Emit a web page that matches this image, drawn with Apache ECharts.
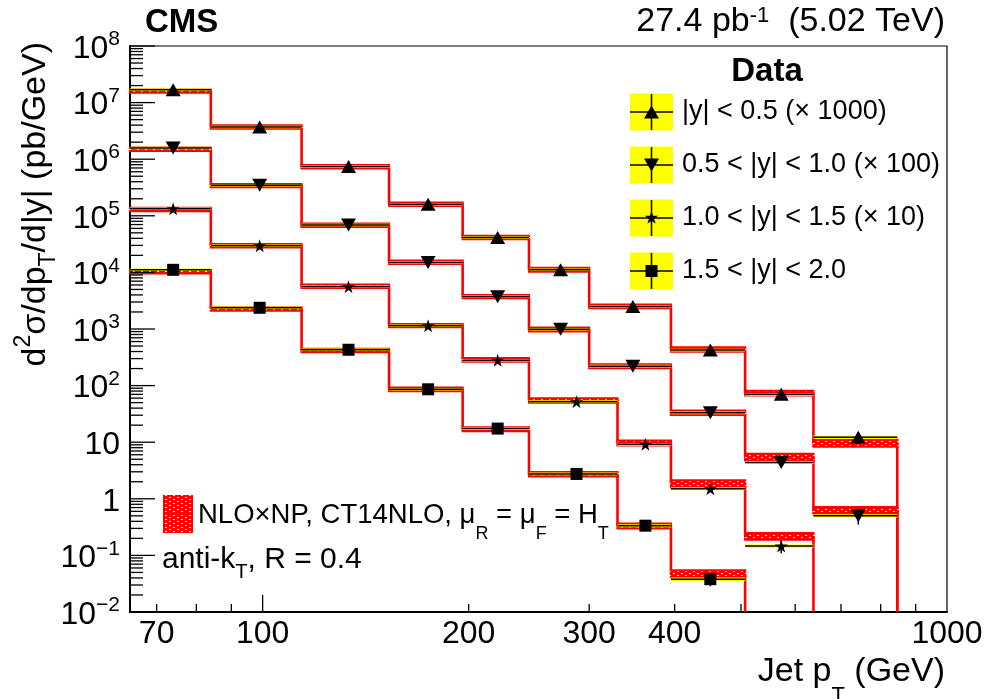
<!DOCTYPE html>
<html><head><meta charset="utf-8">
<script src="https://cdn.jsdelivr.net/npm/echarts@6/dist/echarts.min.js"></script>
<style>html,body{margin:0;padding:0;background:#fff}#c{width:989px;height:699px}</style>
</head><body><div id="c"></div>
<script>
const FONT = '"Liberation Sans", Arial, Helvetica, sans-serif';

// ---- axis ranges / ticks ----
const X_MIN = 64, X_MAX = 1000;
const Y_MIN = 1e-2, Y_MAX = 1e8;
const xTickLabels = [70, 100, 200, 300, 400, 1000];
const xMajorTicks = [100];
const xMinorTicks = [70, 80, 90, 200, 300, 400, 500, 600, 700, 800, 900];
const yDecadeExponents = [-2, -1, 0, 1, 2, 3, 4, 5, 6, 7, 8];

// ---- rapidity bins (categories) ----
const rapidityLabels = ['|y| < 0.5 (\u00d7 1000)', '0.5 < |y| < 1.0 (\u00d7 100)', '1.0 < |y| < 1.5 (\u00d7 10)', '1.5 < |y| < 2.0'];

// ---- jet pT bin edges (GeV) ----
const binEdges_y0 = [64, 84, 114, 153, 196, 245, 300, 395, 507, 638, 846];
const binEdges_y1 = [64, 84, 114, 153, 196, 245, 300, 395, 507, 638, 846];
const binEdges_y2 = [64, 84, 114, 153, 196, 245, 330, 395, 507, 638];
const binEdges_y3 = [64, 84, 114, 153, 196, 245, 330, 395, 507];

// ---- NLO x NP prediction (pb/GeV, scaled) and relative band half-width ----
const nlo_y0 = [1.60e7, 3.73e6, 7.35e5, 1.61e5, 4.16e4, 1.12e4, 2.52e3, 435, 74, 9.7];
const nlo_y1 = [1.50e6, 3.42e5, 6.80e4, 1.51e4, 3.74e3, 980, 221, 33.3, 5.5, 0.63];
const nlo_y2 = [1.30e5, 2.97e4, 5.69e3, 1.15e3, 286, 54.8, 9.7, 1.86, 0.219];
const nlo_y3 = [1.03e4, 2.27e3, 418, 86, 17.0, 2.72, 0.333, 0.048];
const nloUnc_y0 = [0.07, 0.07, 0.07, 0.07, 0.07, 0.08, 0.08, 0.09, 0.10, 0.14];
const nloUnc_y1 = [0.07, 0.07, 0.07, 0.07, 0.07, 0.08, 0.08, 0.09, 0.14, 0.14];
const nloUnc_y2 = [0.07, 0.07, 0.07, 0.07, 0.08, 0.09, 0.10, 0.14, 0.14];
const nloUnc_y3 = [0.07, 0.07, 0.07, 0.08, 0.08, 0.09, 0.10, 0.14];

// ---- measured cross sections (scaled), relative syst. and stat. uncertainties ----
const data_y0 = [1.68e7, 3.70e6, 7.40e5, 1.60e5, 4.12e4, 1.11e4, 2.50e3, 425, 70, 12.2];
const data_y1 = [1.58e6, 3.45e5, 6.90e4, 1.50e4, 3.70e3, 990, 220, 33.0, 4.4, 0.50];
const data_y2 = [1.33e5, 2.95e4, 5.60e3, 1.14e3, 280, 52, 9.2, 1.50, 0.146];
const data_y3 = [1.11e4, 2.37e3, 430, 86, 17.4, 2.75, 0.335, 0.038];
const sys_y0 = [0.03, 0.03, 0.03, 0.03, 0.03, 0.03, 0.035, 0.035, 0.04, 0.05];
const sys_y1 = [0.03, 0.03, 0.03, 0.03, 0.03, 0.03, 0.035, 0.035, 0.04, 0.05];
const sys_y2 = [0.03, 0.03, 0.03, 0.03, 0.03, 0.035, 0.035, 0.04, 0.05];
const sys_y3 = [0.03, 0.03, 0.03, 0.03, 0.035, 0.035, 0.04, 0.05];
const stat_y0 = [0.005, 0.005, 0.005, 0.01, 0.01, 0.02, 0.03, 0.05, 0.10, 0.22];
const stat_y1 = [0.005, 0.005, 0.005, 0.01, 0.01, 0.02, 0.03, 0.05, 0.12, 0.30];
const stat_y2 = [0.005, 0.005, 0.01, 0.01, 0.02, 0.03, 0.05, 0.10, 0.25];
const stat_y3 = [0.005, 0.01, 0.01, 0.02, 0.03, 0.05, 0.10, 0.25];

// ---- styling ----
const STAR_PATH = 'path://M50 0 L61.17 34.63 L97.55 34.55 L68.07 55.87 L79.39 90.45 L50 69 L20.61 90.45 L31.93 55.87 L2.45 34.55 L38.83 34.63 Z';
const groups = [
  {edges: binEdges_y0, nlo: nlo_y0, nloUnc: nloUnc_y0, data: data_y0, sys: sys_y0, stat: stat_y0, symbol: 'triangle', rotate: 0, size: [15, 13]},
  {edges: binEdges_y1, nlo: nlo_y1, nloUnc: nloUnc_y1, data: data_y1, sys: sys_y1, stat: stat_y1, symbol: 'triangle', rotate: 180, size: [15, 13]},
  {edges: binEdges_y2, nlo: nlo_y2, nloUnc: nloUnc_y2, data: data_y2, sys: sys_y2, stat: stat_y2, symbol: STAR_PATH, rotate: 0, size: [13, 13]},
  {edges: binEdges_y3, nlo: nlo_y3, nloUnc: nloUnc_y3, data: data_y3, sys: sys_y3, stat: stat_y3, symbol: 'rect', rotate: 0, size: [12, 12]}
];

// hatch pattern (red with white dashes)
function makePattern() {
  const c = document.createElement('canvas');
  c.width = 8; c.height = 8;
  const g = c.getContext('2d');
  g.fillStyle = '#ff0000'; g.fillRect(0, 0, 8, 8);
  g.fillStyle = '#ffffff';
  g.fillRect(1, 1, 2, 1); g.fillRect(5, 3, 2, 1); g.fillRect(1, 5, 2, 1); g.fillRect(5, 7, 2, 1);
  return c;
}
const hatch = makePattern();

function stepPoints(edges, vals) {
  const pts = [];
  vals.forEach((v, i) => { pts.push([edges[i], v]); pts.push([edges[i + 1], v]); });
  pts.push([edges[edges.length - 1], Y_MIN]);
  return pts;
}

const series = [];
groups.forEach((g, k) => {
  // NLO step line
  series.push({
    type: 'line', name: 'nlo' + k, data: stepPoints(g.edges, g.nlo), showSymbol: false, symbol: 'none',
    lineStyle: {color: '#ff0000', width: 2.6}, z: 2, silent: true, animation: false
  });
  // NLO uncertainty band
  series.push({
    type: 'custom', name: 'nloBand' + k, coordinateSystem: 'cartesian2d', z: 3, silent: true, animation: false,
    data: g.nlo.map((v, i) => [g.edges[i], g.edges[i + 1], v, g.nloUnc[i]]),
    encode: {x: [0, 1], y: 2},
    renderItem(params, api) {
      const lo = api.value(0), hi = api.value(1), v = api.value(2), u = api.value(3);
      const a = api.coord([lo, v * (1 + u)]), b = api.coord([hi, v * (1 - u)]);
      return {type: 'group', children: [
        {type: 'rect', shape: {x: a[0] - 1, y: a[1], width: b[0] - a[0] + 2, height: b[1] - a[1]}, style: {fill: {image: hatch, repeat: 'repeat'}}},
        {type: 'line', shape: {x1: a[0] - 1, y1: a[1], x2: b[0] + 1, y2: a[1]}, style: {stroke: '#ff0000', lineWidth: 2}},
        {type: 'line', shape: {x1: a[0] - 1, y1: b[1], x2: b[0] + 1, y2: b[1]}, style: {stroke: '#ff0000', lineWidth: 2}}
      ]};
    }
  });
  // data: systematic band (yellow) + horizontal bar + stat error
  series.push({
    type: 'custom', name: 'dataBar' + k, coordinateSystem: 'cartesian2d', z: 4, silent: true, animation: false,
    data: g.data.map((d, i) => [g.edges[i], g.edges[i + 1], d, g.sys[i], g.stat[i]]),
    encode: {x: [0, 1], y: 2},
    renderItem(params, api) {
      const lo = api.value(0), hi = api.value(1), d = api.value(2), s = api.value(3), st = api.value(4);
      const xc = (lo + hi) / 2;
      const a = api.coord([lo, d * (1 + s)]), b = api.coord([hi, d * (1 - s)]);
      const m = api.coord([xc, d]);
      const e1 = api.coord([xc, d * (1 + st)]), e2 = api.coord([xc, d * (1 - st)]);
      return {type: 'group', children: [
        {type: 'rect', shape: {x: a[0], y: a[1] - 0.5, width: b[0] - a[0], height: b[1] - a[1] + 1}, style: {fill: '#ffff00'}},
        {type: 'line', shape: {x1: a[0], y1: m[1], x2: b[0], y2: m[1]}, style: {stroke: '#000', lineWidth: 1.5}},
        {type: 'line', shape: {x1: m[0], y1: e1[1], x2: m[0], y2: e2[1]}, style: {stroke: '#000', lineWidth: 1.5}}
      ]};
    }
  });
  // data markers
  series.push({
    type: 'scatter', name: rapidityLabels[k], z: 5, silent: true, animation: false,
    data: g.data.map((d, i) => [(g.edges[i] + g.edges[i + 1]) / 2, d]),
    symbol: g.symbol, symbolRotate: g.rotate, symbolSize: g.size,
    itemStyle: {color: '#000', opacity: 1}
  });
});

// ---- tick marks and tick labels drawn through the axes' scales ----
const yMinorTicks = [];
yDecadeExponents.slice(0, -1).forEach(e => { for (let m = 2; m <= 9; m++) yMinorTicks.push(m * Math.pow(10, e)); });

series.push({
  type: 'custom', name: 'xticks', coordinateSystem: 'cartesian2d', z: 6, silent: true, animation: false,
  data: xMinorTicks.map(v => [v, Y_MIN, 8]).concat(xMajorTicks.map(v => [v, Y_MIN, 17])),
  encode: {x: 0, y: 1},
  renderItem(params, api) {
    const c = api.coord([api.value(0), Y_MIN]); const L = api.value(2);
    return {type: 'line', shape: {x1: c[0], y1: c[1], x2: c[0], y2: c[1] - L}, style: {stroke: '#000', lineWidth: 1.3}};
  }
});
series.push({
  type: 'custom', name: 'yticks', coordinateSystem: 'cartesian2d', z: 6, silent: true, animation: false,
  data: yMinorTicks.map(v => [X_MIN, v, 13]).concat(yDecadeExponents.map(e => [X_MIN, Math.pow(10, e), 25])),
  encode: {x: 0, y: 1},
  renderItem(params, api) {
    const c = api.coord([X_MIN, api.value(1)]); const L = api.value(2);
    return {type: 'line', shape: {x1: c[0], y1: c[1], x2: c[0] + L, y2: c[1]}, style: {stroke: '#000', lineWidth: 1.3}};
  }
});
series.push({
  type: 'custom', name: 'xlabels', coordinateSystem: 'cartesian2d', z: 6, silent: true, animation: false,
  data: xTickLabels.map(v => [v, Y_MIN]),
  encode: {x: 0, y: 1},
  renderItem(params, api) {
    const v = api.value(0); const c = api.coord([v, Y_MIN]);
    return {type: 'text', x: c[0], y: c[1] + 22, style: {text: String(v), font: '32px ' + FONT, fill: '#000', align: 'center', verticalAlign: 'middle'}};
  }
});
series.push({
  type: 'custom', name: 'ylabels', coordinateSystem: 'cartesian2d', z: 6, silent: true, animation: false,
  data: yDecadeExponents.map(e => [X_MIN, Math.pow(10, e), e]),
  encode: {x: 0, y: 1},
  renderItem(params, api) {
    const e = api.value(2); const c = api.coord([X_MIN, api.value(1)]);
    let t;
    if (e === 0) t = '{b|1}';
    else if (e === 1) t = '{b|10}';
    else t = '{b|10}{s|' + (e < 0 ? '\u2212' + (-e) : e) + '}';
    return {type: 'text', x: c[0] - 10, y: c[1] + 3, style: {
      text: t, align: 'right', verticalAlign: 'middle', fill: '#000',
      rich: {b: {fontSize: 32, fontFamily: FONT, lineHeight: 40, verticalAlign: 'middle'},
             s: {fontSize: 21, fontFamily: FONT, lineHeight: 20, verticalAlign: 'top'}}
    }};
  }
});

// ---- legend & annotations (graphic) ----
function starPts(cx, cy, R, r) {
  const p = [];
  for (let i = 0; i < 10; i++) {
    const ang = -Math.PI / 2 + i * Math.PI / 5; const rr = i % 2 === 0 ? R : r;
    p.push([cx + rr * Math.cos(ang), cy + rr * Math.sin(ang)]);
  }
  return p;
}
const graphic = [];
graphic.push({type: 'text', x: 145, y: 23, style: {text: 'CMS', font: 'bold 33px ' + FONT, fill: '#000', align: 'left', verticalAlign: 'middle'}});
graphic.push({type: 'text', x: 945, y: 22, style: {
  text: '{a|27.4 pb}{s|-1}{a|  (5.02 TeV)}', align: 'right', verticalAlign: 'middle', fill: '#000',
  rich: {a: {fontSize: 34, fontFamily: FONT, lineHeight: 34, verticalAlign: 'middle'}, s: {fontSize: 22, fontFamily: FONT, lineHeight: 20, verticalAlign: 'top'}}
}});
graphic.push({type: 'text', x: 767, y: 72, style: {text: 'Data', font: 'bold 33px ' + FONT, fill: '#000', align: 'center', verticalAlign: 'middle'}});
groups.forEach((g, i) => {
  const cy = 112 + 53 * i, cx = 651.5;
  let marker;
  if (i === 0) marker = {type: 'polygon', shape: {points: [[cx - 7.5, cy + 6.5], [cx + 7.5, cy + 6.5], [cx, cy - 6.5]]}, style: {fill: '#000'}};
  else if (i === 1) marker = {type: 'polygon', shape: {points: [[cx - 7.5, cy - 6.5], [cx + 7.5, cy - 6.5], [cx, cy + 6.5]]}, style: {fill: '#000'}};
  else if (i === 2) marker = {type: 'polygon', shape: {points: starPts(cx, cy, 7, 2.7)}, style: {fill: '#000'}};
  else marker = {type: 'rect', shape: {x: cx - 6, y: cy - 6, width: 12, height: 12}, style: {fill: '#000'}};
  graphic.push({type: 'group', children: [
    {type: 'rect', shape: {x: 630, y: cy - 18.5, width: 43, height: 37}, style: {fill: '#ffff00'}},
    {type: 'line', shape: {x1: 630, y1: cy, x2: 673, y2: cy}, style: {stroke: '#000', lineWidth: 1.5}},
    {type: 'line', shape: {x1: cx, y1: cy - 18, x2: cx, y2: cy + 18}, style: {stroke: '#000', lineWidth: 1.5}},
    marker,
    {type: 'text', x: 682, y: cy, style: {text: rapidityLabels[i], font: '27px ' + FONT, fill: '#000', align: 'left', verticalAlign: 'middle'}}
  ]});
});
graphic.push({type: 'rect', shape: {x: 163, y: 495, width: 30, height: 38}, style: {fill: {image: hatch, repeat: 'repeat'}}});
graphic.push({type: 'line', shape: {x1: 163, y1: 514, x2: 193, y2: 514}, style: {stroke: '#ff0000', lineWidth: 2}});
graphic.push({type: 'text', x: 198, y: 515, style: {
  text: '{a|NLO\u00d7NP, CT14NLO, \u03bc}{s|R}{a| = \u03bc}{s|F}{a| = H}{s|T}', align: 'left', verticalAlign: 'middle', fill: '#000',
  rich: {a: {fontSize: 27.5, fontFamily: FONT, lineHeight: 56, verticalAlign: 'middle'}, s: {fontSize: 18, fontFamily: FONT, lineHeight: 18, verticalAlign: 'bottom'}}
}});
graphic.push({type: 'text', x: 162, y: 560, style: {
  text: '{a|anti-k}{s|T}{a|, R = 0.4}', align: 'left', verticalAlign: 'middle', fill: '#000',
  rich: {a: {fontSize: 30, fontFamily: FONT, lineHeight: 44, verticalAlign: 'middle'}, s: {fontSize: 20, fontFamily: FONT, lineHeight: 18, verticalAlign: 'bottom'}}
}});
graphic.push({type: 'text', x: 945, y: 672, style: {
  text: '{a|Jet p}{s|T}{a| (GeV)}', align: 'right', verticalAlign: 'middle', fill: '#000',
  rich: {a: {fontSize: 34, fontFamily: FONT, lineHeight: 70, verticalAlign: 'middle'}, s: {fontSize: 22, fontFamily: FONT, lineHeight: 20, verticalAlign: 'bottom'}}
}});
graphic.push({type: 'text', x: 36, y: 42, rotation: Math.PI / 2, style: {
  text: '{a|d}{p|2}{a|\u03c3/dp}{s|T}{a|/d|y| (pb/GeV)}', align: 'right', verticalAlign: 'middle', fill: '#000',
  rich: {a: {fontSize: 34, fontFamily: FONT, lineHeight: 48, verticalAlign: 'middle'},
         p: {fontSize: 23, fontFamily: FONT, lineHeight: 20, verticalAlign: 'top'},
         s: {fontSize: 23, fontFamily: FONT, lineHeight: 20, verticalAlign: 'bottom'}}
}});

const chart = echarts.init(document.getElementById('c'));
chart.setOption({
  animation: false,
  backgroundColor: '#fff',
  grid: {left: 130, right: 42, top: 46, bottom: 87, show: true, borderColor: '#000', borderWidth: 1.2, backgroundColor: 'transparent'},
  xAxis: {type: 'log', logBase: 10, min: X_MIN, max: X_MAX,
    axisLine: {show: true, lineStyle: {color: '#000', width: 2}}, axisTick: {show: false}, axisLabel: {show: false}, splitLine: {show: false}, minorTick: {show: false}},
  yAxis: {type: 'log', logBase: 10, min: Y_MIN, max: Y_MAX,
    axisLine: {show: true, lineStyle: {color: '#000', width: 2}}, axisTick: {show: false}, axisLabel: {show: false}, splitLine: {show: false}, minorTick: {show: false}},
  series: series,
  graphic: graphic
});
</script>
</body></html>
